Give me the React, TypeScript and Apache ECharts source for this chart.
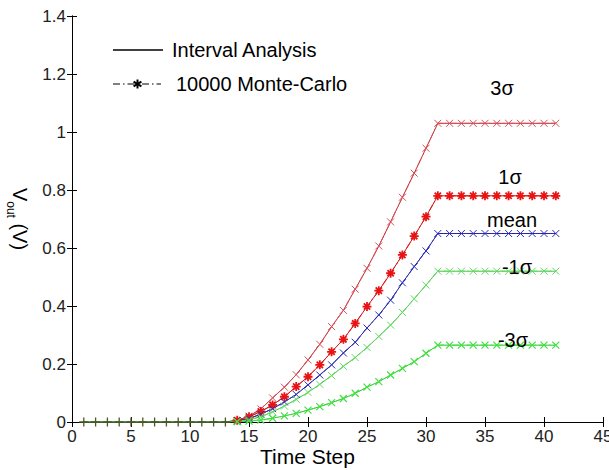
import React, { useEffect, useRef } from "react";
import * as echarts from "echarts";

const timeSteps = [1,2,3,4,5,6,7,8,9,10,11,12,13,14,15,16,17,18,19,20,21,22,23,24,25,26,27,28,29,30,31,32,33,34,35,36,37,38,39,40,41];

const plus3Sigma = [0,0,0,0,0,0,0,0,0,0,0,0,0,
  0.005,0.02,0.045,0.083,0.12,0.163,0.214,0.268,0.329,0.385,0.458,0.53,0.607,0.69,0.775,0.858,0.944,
  1.03,1.03,1.03,1.03,1.03,1.03,1.03,1.03,1.03,1.03,1.03];
const plus1Sigma = [0,0,0,0,0,0,0,0,0,0,0,0,0,
  0.006,0.018,0.036,0.059,0.087,0.122,0.156,0.197,0.242,0.285,0.34,0.398,0.453,0.513,0.576,0.641,0.708,
  0.78,0.78,0.78,0.78,0.78,0.78,0.78,0.78,0.78,0.78,0.78];
const meanVals = [0,0,0,0,0,0,0,0,0,0,0,0,0,
  0.004,0.012,0.027,0.046,0.069,0.095,0.128,0.162,0.197,0.238,0.275,0.324,0.369,0.42,0.48,0.536,0.59,
  0.65,0.65,0.65,0.65,0.65,0.65,0.65,0.65,0.65,0.65,0.65];
const minus1Sigma = [0,0,0,0,0,0,0,0,0,0,0,0,0,
  0.002,0.008,0.018,0.035,0.055,0.078,0.102,0.13,0.16,0.192,0.222,0.257,0.295,0.334,0.378,0.425,0.472,
  0.52,0.52,0.52,0.52,0.52,0.52,0.52,0.52,0.52,0.52,0.52];
const minus3Sigma = [0,0,0,0,0,0,0,0,0,0,0,0,0,
  0.001,0.003,0.007,0.013,0.021,0.03,0.041,0.053,0.067,0.081,0.099,0.12,0.139,0.162,0.185,0.208,0.237,
  0.265,0.265,0.265,0.265,0.265,0.265,0.265,0.265,0.265,0.265,0.265];

const earlySteps = [1,2,3,4,5,6,7,8,9,10,11,12,13];
const earlyValues = [0,0,0,0,0,0,0,0,0,0,0,0,0];

const xTicks = [0,5,10,15,20,25,30,35,40,45];
const yTicks = [0,0.2,0.4,0.6,0.8,1,1.2,1.4];

const curveLabels = ["3σ", "1σ", "mean", "-1σ", "-3σ"];
const legendLabels = ["Interval Analysis", "10000 Monte-Carlo"];

const FONT = "'Liberation Sans', Arial, Helvetica, sans-serif";
const X_SYM = "path://M0,0L10,10M10,0L0,10";
const STAR_SYM = "path://M5,0L5,10M0,5L10,5M1.5,1.5L8.5,8.5M8.5,1.5L1.5,8.5";
const PLUS_SYM = "path://M5,0L5,10M0,5L10,5";
const DASHDOT = [7, 3, 1.5, 3];

export default function App() {
  const ref = useRef<HTMLDivElement>(null);
  useEffect(() => {
    document.body.style.margin = "0";
    if (!ref.current) return;
    const chart = echarts.init(ref.current, undefined, { renderer: "svg" });

    const pairs = (vals: number[]) => timeSteps.map((t, i) => [t, vals[i]]);
    const mcPairs = (vals: number[]) =>
      timeSteps.map((t, i) => (t >= 14 ? [t, vals[i]] : [t, null]));

    const curves = [
      { vals: plus3Sigma, line: "#c0282c", mark: "#d8505a", sym: X_SYM, size: 7, bw: 1 },
      { vals: plus1Sigma, line: "#c81818", mark: "#e81414", sym: STAR_SYM, size: 9, bw: 1.8 },
      { vals: meanVals, line: "#20209a", mark: "#2c2cb8", sym: X_SYM, size: 7, bw: 1 },
      { vals: minus1Sigma, line: "#48c048", mark: "#60dc60", sym: X_SYM, size: 7, bw: 1 },
      { vals: minus3Sigma, line: "#30c030", mark: "#40e040", sym: X_SYM, size: 7, bw: 1.2 },
    ];

    const series: any[] = [];
    curves.forEach((c) => {
      series.push({
        type: "line",
        data: pairs(c.vals),
        showSymbol: false,
        symbol: "none",
        lineStyle: { color: c.line, width: 1 },
        itemStyle: { color: c.line },
        silent: true,
        z: 2,
      });
    });
    curves.forEach((c) => {
      series.push({
        type: "line",
        data: mcPairs(c.vals),
        symbol: c.sym,
        symbolSize: c.size,
        showSymbol: true,
        lineStyle: { color: c.mark, width: 1, type: DASHDOT },
        itemStyle: { color: c.mark, borderColor: c.mark, borderWidth: c.bw },
        silent: true,
        z: 3,
      });
    });
    series.push({
      type: "line",
      data: earlySteps.map((t, i) => [t, earlyValues[i]]),
      symbol: PLUS_SYM,
      symbolSize: 9,
      lineStyle: { width: 0 },
      itemStyle: { color: "#4d5528", borderColor: "#4d5528", borderWidth: 1.3 },
      silent: true,
      z: 4,
    });

    const axisCommon = {
      axisLine: { show: true, lineStyle: { color: "#000", width: 1 } },
      axisTick: { show: true, inside: true, length: 5, lineStyle: { color: "#000" } },
      splitLine: { show: false },
    };

    const labelPos = [
      { text: curveLabels[0], x: 502, y: 88 },
      { text: curveLabels[1], x: 510, y: 177 },
      { text: curveLabels[2], x: 512, y: 220 },
      { text: curveLabels[3], x: 517, y: 267 },
      { text: curveLabels[4], x: 513, y: 340 },
    ];

    const graphics: any[] = labelPos.map((l) => ({
      type: "text",
      x: l.x,
      y: l.y,
      style: {
        text: l.text,
        fontSize: 20,
        fontFamily: FONT,
        fill: "#000",
        textAlign: "center",
        textVerticalAlign: "middle",
      },
      z: 10,
    }));

    // legend (drawn as graphics to reproduce the line samples)
    graphics.push(
      { type: "line", shape: { x1: 113, y1: 50, x2: 163, y2: 50 }, style: { stroke: "#000", lineWidth: 1.5 }, z: 10 },
      { type: "text", x: 172, y: 50, style: { text: legendLabels[0], fontSize: 20, fontFamily: FONT, fill: "#000", textAlign: "left", textVerticalAlign: "middle" }, z: 10 },
      { type: "line", shape: { x1: 113, y1: 84, x2: 161, y2: 84 }, style: { stroke: "#000", lineWidth: 1, lineDash: DASHDOT }, z: 10 },
      { type: "line", shape: { x1: 137.5, y1: 79.5, x2: 137.5, y2: 88.5 }, style: { stroke: "#000", lineWidth: 2 }, z: 11 },
      { type: "line", shape: { x1: 133.6, y1: 81.7, x2: 141.4, y2: 86.3 }, style: { stroke: "#000", lineWidth: 2 }, z: 11 },
      { type: "line", shape: { x1: 141.4, y1: 81.7, x2: 133.6, y2: 86.3 }, style: { stroke: "#000", lineWidth: 2 }, z: 11 },
      { type: "text", x: 176, y: 84, style: { text: legendLabels[1], fontSize: 20, fontFamily: FONT, fill: "#000", textAlign: "left", textVerticalAlign: "middle" }, z: 10 }
    );

    chart.setOption({
      animation: false,
      backgroundColor: "#fff",
      textStyle: { fontFamily: FONT },
      grid: { left: 72, right: 6, top: 16, bottom: 48, containLabel: false, outerBoundsMode: "none" },
      xAxis: [
        {
          type: "value",
          min: xTicks[0],
          max: xTicks[xTicks.length - 1],
          interval: 5,
          position: "bottom",
          name: "Time Step",
          nameLocation: "middle",
          nameGap: 24,
          nameMoveOverlap: false,
          nameTextStyle: { fontSize: 21, color: "#000", fontFamily: FONT, padding: [0, 60, 0, 0] },
          axisLabel: { fontSize: 17, color: "#222", margin: 6, fontFamily: FONT },
          ...axisCommon,
        },
        {
          type: "value",
          min: xTicks[0],
          max: xTicks[xTicks.length - 1],
          interval: 5,
          position: "top",
          axisLabel: { show: false },
          ...axisCommon,
        },
      ],
      yAxis: [
        {
          type: "value",
          min: yTicks[0],
          max: yTicks[yTicks.length - 1],
          interval: 0.2,
          position: "left",
          name: "{v|V}{sub|out}{v| (V)}",
          nameLocation: "middle",
          nameRotate: -90,
          nameGap: 42,
          nameMoveOverlap: false,
          nameTextStyle: {
            fontFamily: FONT,
            color: "#000",
            rich: {
              v: { fontSize: 20, lineHeight: 22, verticalAlign: "top", color: "#000", fontFamily: FONT },
              sub: { fontSize: 12, lineHeight: 12, padding: [13, 0, 0, 0], verticalAlign: "top", color: "#000", fontFamily: FONT },
            },
          },
          axisLabel: { fontSize: 17, color: "#222", margin: 6, fontFamily: FONT },
          ...axisCommon,
        },
        {
          type: "value",
          min: yTicks[0],
          max: yTicks[yTicks.length - 1],
          interval: 0.2,
          position: "right",
          axisLabel: { show: false },
          ...axisCommon,
        },
      ],
      graphic: graphics,
      series,
    });
    return () => chart.dispose();
  }, []);
  return <div ref={ref} style={{ width: 609, height: 470 }} />;
}
